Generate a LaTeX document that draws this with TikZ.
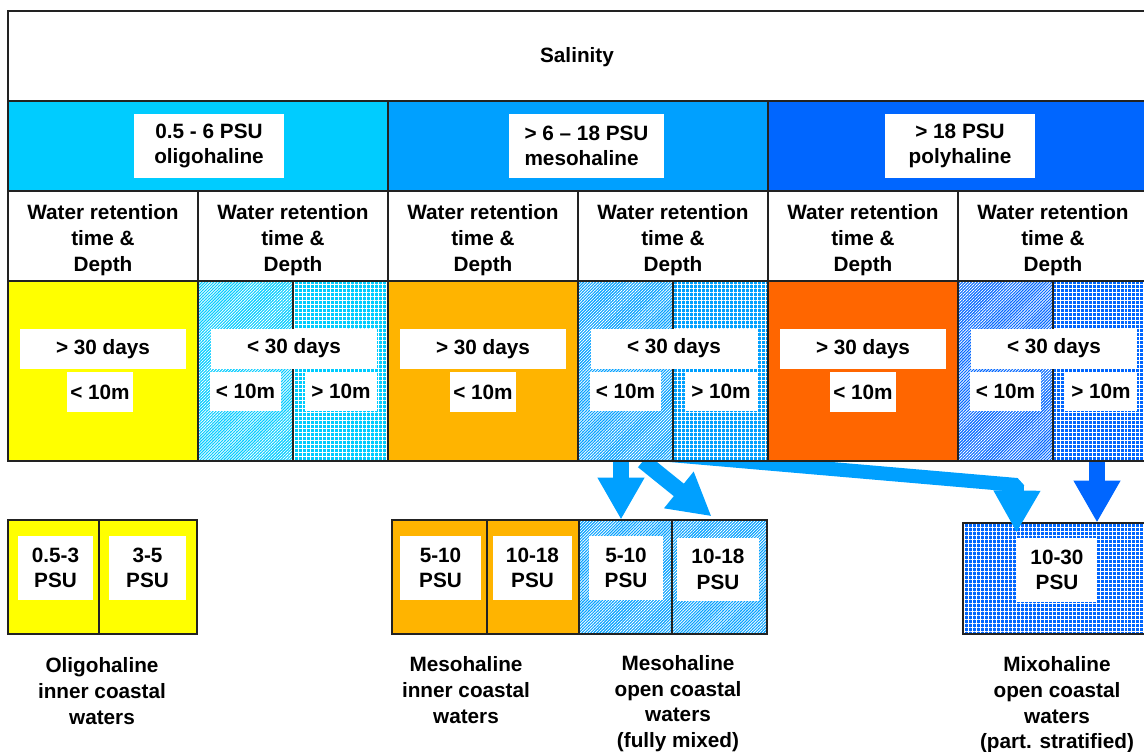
\documentclass[tikz,border=0pt]{standalone}
\usepackage{fontspec}
\setmainfont{Liberation Sans}
\usetikzlibrary{arrows.meta,patterns.meta,calc}

\definecolor{oligo}{HTML}{00CCFF}
\definecolor{meso}{HTML}{00A0FF}
\definecolor{poly}{HTML}{0066FF}
\definecolor{yel}{HTML}{FFFF00}
\definecolor{amber}{HTML}{FFB400}
\definecolor{orng}{HTML}{FF6600}
\definecolor{linec}{HTML}{222222}

\tikzset{
  txt/.style={font=\fontsize{11.8}{14.6}\selectfont\bfseries, align=center, inner sep=0pt},
  lbl/.style={txt, fill=white, minimum height=8mm},
  diag/.style={pattern={Lines[angle=45,distance=1.2pt,line width=0.45pt]}, pattern color=white},
  gridfill/.style={pattern={Hatch[angle=0,distance=2.268pt,line width=0.5pt]}, pattern color=white},
  bcell/.style={draw=linec, line width=0.8pt, inner sep=0pt, minimum height=22.8mm},
  flow/.style={line width=3.2mm, line join=bevel, -{Triangle[width=8.8mm,length=8.4mm]}},
}

\begin{document}
\begin{tikzpicture}[x=0.2mm,y=-0.2mm]
\useasboundingbox (0,0) rectangle (1144,751);

% lower boxes
\node[bcell, fill=yel, minimum width=18.2mm] (o1) at (53.5,577) {};
\node[bcell, fill=yel, minimum width=19.6mm] (o2) at (148,577) {};
\node[bcell, fill=amber, minimum width=19mm] (m1) at (439.5,577) {};
\node[bcell, fill=amber, minimum width=18.4mm] (m2) at (533,577) {};
\node[bcell, preaction={fill=meso}, diag, minimum width=18.6mm] (m3) at (625.5,577) {};
\node[bcell, preaction={fill=meso}, diag, minimum width=19mm] (m4) at (719.5,577) {};
\node[bcell, preaction={fill=poly}, gridfill, minimum width=39.4mm, minimum height=22.2mm] (x1) at (1061.5,578.5) {};

\node[lbl, minimum width=15mm, minimum height=12.8mm] (p1) at (55.5,568) {0.5-3\\PSU};
\node[lbl, minimum width=15.4mm, minimum height=12.8mm] (p2) at (147.5,568) {3-5\\PSU};
\node[lbl, minimum width=16.2mm, minimum height=12.8mm] (p3) at (440.5,568) {5-10\\PSU};
\node[lbl, minimum width=15.8mm, minimum height=12.8mm] (p4) at (532.5,568) {10-18\\PSU};
\node[lbl, minimum width=14.8mm, minimum height=12.8mm] (p5) at (626,568) {5-10\\PSU};
\node[lbl, minimum width=16.4mm, minimum height=12.6mm] (p6) at (718,569.5) {10-18\\PSU};
\node[lbl, minimum width=16mm, minimum height=12.8mm] (p7) at (1057,570) {10-30\\PSU};

\node[txt] (n1) at (102,691) {Oligohaline\\inner coastal\\waters};
\node[txt] (n2) at (466,690) {Mesohaline\\inner coastal\\waters};
\node[txt] (n3) at (678,703.5) {Mesohaline\\open coastal\\waters\\(fully mixed)};
\node[txt] (n4) at (1057,705) {Mixohaline\\open coastal\\waters\\(part. stratified)};

% arrows
\coordinate (s1) at (621,461);
\coordinate (s2) at (643,461);
\coordinate (s3) at (670,455);
\coordinate (k3) at (1017,485);
\coordinate (s4) at (1097,461);
\draw[flow, meso] (s1) -- (s1 |- m3.north);
\draw[flow, meso] (s2) -- ($(m4.north)+(-8,-3)$);
\draw[flow, meso, line width=2.8mm] (s3) -- (k3) -- ($(x1.north west)+(54,10)$);
\draw[flow, poly] (s4) -- (s4 |- x1.north);

% table
\fill[white] (8,11) rectangle (1148,101);
\fill[oligo] (8,101) rectangle (388,191);
\fill[meso] (388,101) rectangle (768,191);
\fill[poly] (768,101) rectangle (1148,191);
\fill[white] (8,191) rectangle (1148,281);
\fill[yel] (8,281) rectangle (198,461);
\fill[oligo] (198,281) rectangle (388,461);
\fill[diag] (198,281) rectangle (293,461);
\fill[gridfill] (293,281) rectangle (388,461);
\fill[amber] (388,281) rectangle (578,461);
\fill[meso] (578,281) rectangle (768,461);
\fill[diag] (578,281) rectangle (673,461);
\fill[gridfill] (673,281) rectangle (768,461);
\fill[orng] (768,281) rectangle (958,461);
\fill[poly] (958,281) rectangle (1148,461);
\fill[diag] (958,281) rectangle (1053,461);
\fill[gridfill] (1053,281) rectangle (1148,461);

\draw[linec, line width=0.9pt] (8,11) rectangle (1148,461);
\draw[linec, line width=0.9pt] (8,101) -- (1148,101);
\draw[linec, line width=0.9pt] (8,191) -- (1148,191);
\draw[linec, line width=0.9pt] (8,281) -- (1148,281);
\draw[linec, line width=0.9pt] (388,101) -- (388,461);
\draw[linec, line width=0.9pt] (768,101) -- (768,461);
\draw[linec, line width=0.9pt] (198,191) -- (198,461);
\draw[linec, line width=0.9pt] (578,191) -- (578,461);
\draw[linec, line width=0.9pt] (958,191) -- (958,461);
\draw[linec, line width=0.6pt] (293,281) -- (293,461);
\draw[linec, line width=0.6pt] (673,281) -- (673,461);
\draw[linec, line width=0.6pt] (1053,281) -- (1053,461);

\node[txt] (sal) at (577,57) {Salinity};
\node[lbl, minimum width=30mm, minimum height=12.8mm] (b1) at (209,146) {0.5 - 6 PSU\\oligohaline};
\node[lbl, align=left, minimum width=31mm, minimum height=12.8mm] (b2) at (586.5,146) {> 6 -- 18 PSU\\mesohaline};
\node[lbl, minimum width=30mm, minimum height=12.8mm] (b3) at (960,146) {> 18 PSU\\polyhaline};

\node[txt] (h1) at (103,240) {Water retention\\time \&\\Depth};
\node[txt] (h2) at (293,240) {Water retention\\time \&\\Depth};
\node[txt] (h3) at (483,240) {Water retention\\time \&\\Depth};
\node[txt] (h4) at (673,240) {Water retention\\time \&\\Depth};
\node[txt] (h5) at (863,240) {Water retention\\time \&\\Depth};
\node[txt] (h6) at (1053,240) {Water retention\\time \&\\Depth};

\node[lbl, minimum width=33.2mm] (d1) at (103,349) {> 30 days};
\node[lbl, minimum width=33.2mm] (d2) at (294,348.5) {< 30 days};
\node[lbl, minimum width=33.2mm] (d3) at (483,349) {> 30 days};
\node[lbl, minimum width=33.2mm] (d4) at (674,348.5) {< 30 days};
\node[lbl, minimum width=33.2mm] (d5) at (863,349) {> 30 days};
\node[lbl, minimum width=33.2mm] (d6) at (1054,348.5) {< 30 days};

\node[lbl, minimum width=13.2mm] (e1) at (100,392) {< 10m};
\node[lbl, minimum width=14.2mm, minimum height=7.8mm] (e2) at (245.5,391.5) {< 10m};
\node[lbl, minimum width=14.4mm, minimum height=7.8mm] (f2) at (341,391.5) {> 10m};
\node[lbl, minimum width=13.2mm] (e3) at (483,392) {< 10m};
\node[lbl, minimum width=14.2mm, minimum height=7.8mm] (e4) at (625.5,391.5) {< 10m};
\node[lbl, minimum width=14.4mm, minimum height=7.8mm] (f4) at (721,391.5) {> 10m};
\node[lbl, minimum width=13.2mm] (e5) at (863,392) {< 10m};
\node[lbl, minimum width=14.2mm, minimum height=7.8mm] (e6) at (1005.5,391.5) {< 10m};
\node[lbl, minimum width=14.4mm, minimum height=7.8mm] (f6) at (1101,391.5) {> 10m};
\end{tikzpicture}
\end{document}
